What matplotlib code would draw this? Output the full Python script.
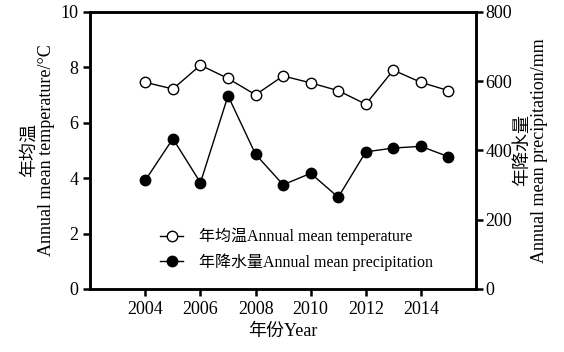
import matplotlib.pyplot as plt

plt.rcParams['font.family'] = ['Liberation Serif', 'Noto Sans CJK SC']

years = [2004, 2005, 2006, 2007, 2008, 2009, 2010, 2011, 2012, 2013, 2014, 2015]
temperature = [7.46, 7.22, 8.08, 7.60, 7.01, 7.69, 7.44, 7.16, 6.67, 7.90, 7.46, 7.16]
precipitation = [314, 434, 307, 558, 389, 301, 334, 265, 396, 407, 412, 382]

fig = plt.figure(figsize=(5.64, 3.52), dpi=100)
ax = fig.add_axes([0.16, 0.179, 0.684, 0.787])
ax2 = ax.twinx()

l1, = ax.plot(years, temperature, color='black', lw=1, marker='o', ms=7.5,
              mfc='white', mec='black', mew=1, label='年均温Annual mean temperature')
l2, = ax2.plot(years, precipitation, color='black', lw=1, marker='o', ms=7.5,
               mfc='black', mec='black', label='年降水量Annual mean precipitation')

ax.set_xlim(2002, 2016)
ax.set_xticks([2004, 2006, 2008, 2010, 2012, 2014])
ax.set_ylim(0, 10)
ax.set_yticks([0, 2, 4, 6, 8, 10])
ax2.set_ylim(0, 800)
ax2.set_yticks([0, 200, 400, 600, 800])

for a in (ax, ax2):
    for s in a.spines.values():
        s.set_linewidth(1.8)
    a.tick_params(direction='out', width=1.8, length=5, labelsize=13)
ax2.tick_params(pad=2)

ax.set_xlabel('年份Year', fontsize=13, labelpad=4)
ax.set_ylabel('年均温\nAnnual mean temperature/°C', fontsize=13, linespacing=1.0)
ax2.set_ylabel('年降水量\nAnnual mean precipitation/mm', fontsize=13, linespacing=1.0,
               rotation=90, labelpad=1)

ax.legend(handles=[l1, l2], loc='center left', bbox_to_anchor=(0.181, 0.143),
          frameon=False, fontsize=11.5, handlelength=1.45, handletextpad=1.0,
          labelspacing=0.5, borderpad=0, borderaxespad=0)

fig.savefig('out.png', dpi=100)
